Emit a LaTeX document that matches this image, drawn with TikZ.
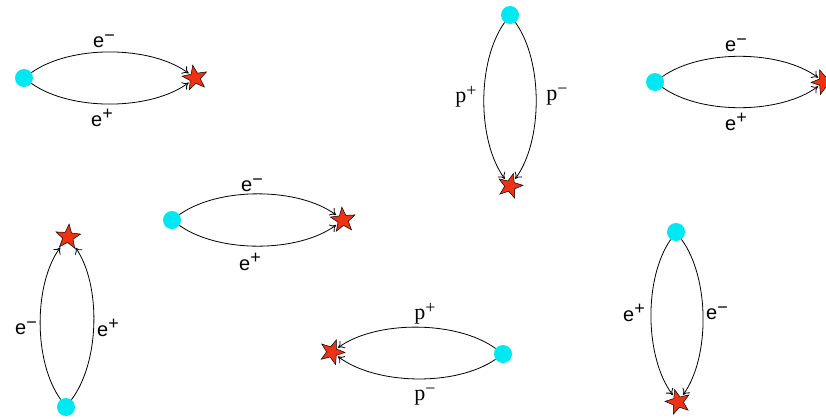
\documentclass[tikz,border=0pt]{standalone}
\usepackage{fontspec}
\setmainfont{Liberation Sans}
\newfontfamily\pfont{Liberation Serif}
\usetikzlibrary{shapes.geometric,arrows.meta}
\definecolor{dotcyan}{RGB}{0,232,242}
\definecolor{starred}{RGB}{240,50,20}
\newcommand{\supm}{\raisebox{0.6ex}{\fontsize{18}{18}\selectfont\char"2212}}
\newcommand{\supp}{\raisebox{0.6ex}{\fontsize{18}{18}\selectfont +}}
\begin{document}
\begin{tikzpicture}[x=1pt,y=-1pt,
  dot/.style={circle,fill=dotcyan,minimum size=18pt,inner sep=0pt},
  starnode/.style={star,star points=5,star point ratio=2.4,fill=starred,draw=black,line width=0.5pt,minimum size=26pt,inner sep=0pt},
  arcline/.style={line width=0.8pt,shorten >=1.5pt,-{To[length=6pt,width=9pt]}},
  bl/.style={bend left=36,looseness=0.78},
  br/.style={bend right=36,looseness=0.78},
  elab/.style={font=\fontsize{20}{20}\selectfont,inner sep=0pt},
  plab/.style={font=\pfont\fontsize{22}{22}\selectfont,inner sep=0pt}]
\useasboundingbox (0,0) rectangle (826,418);
% 1
\node[dot] (d1) at (24,78) {};
\node[starnode,rotate=10] (s1) at (195,78) {};
\draw[arcline] (d1) to[bl] (s1);
\draw[arcline] (d1) to[br] (s1);
\node[elab] (l1a) at (104,41) {e\supm};
\node[elab] (l1b) at (102,118) {e\supp};
% 2
\node[dot] (d2) at (510,15) {};
\node[starnode,rotate=-15] (s2) at (510,186) {};
\draw[arcline] (d2) to[bl] (s2);
\draw[arcline] (d2) to[br] (s2);
\node[plab] (l2a) at (466,97) {p\supp};
\node[plab] (l2b) at (557,97) {p\supm};
% 3
\node[dot] (d3) at (655,82) {};
\node[starnode,rotate=20] (s3) at (824,82) {};
\draw[arcline] (d3) to[bl] (s3);
\draw[arcline] (d3) to[br] (s3);
\node[elab] (l3a) at (736,45) {e\supm};
\node[elab] (l3b) at (736,122) {e\supp};
% 4
\node[dot] (d4) at (172,220) {};
\node[starnode,rotate=5] (s4) at (343,220) {};
\draw[arcline] (d4) to[bl] (s4);
\draw[arcline] (d4) to[br] (s4);
\node[elab] (l4a) at (252,185) {e\supm};
\node[elab] (l4b) at (250,262) {e\supp};
% 5
\node[dot] (d5) at (66,407) {};
\node[starnode,rotate=-5] (s5) at (68,237) {};
\draw[arcline] (d5) to[bl] (s5);
\draw[arcline] (d5) to[br] (s5);
\node[elab] (l5a) at (26,328) {e\supm};
\node[elab] (l5b) at (108,328) {e\supp};
% 6
\node[dot] (d6) at (503,354) {};
\node[starnode,rotate=-20] (s6) at (332,352) {};
\draw[arcline] (d6) to[bl] (s6);
\draw[arcline] (d6) to[br] (s6);
\node[plab] (l6a) at (425,314) {p\supp};
\node[plab] (l6b) at (425,397) {p\supm};
% 7
\node[dot] (d7) at (676,232) {};
\node[starnode,rotate=15] (s7) at (678,402) {};
\draw[arcline] (d7) to[bl] (s7);
\draw[arcline] (d7) to[br] (s7);
\node[elab] (l7a) at (634,313) {e\supp};
\node[elab] (l7b) at (717,313) {e\supm};
\end{tikzpicture}
\end{document}
